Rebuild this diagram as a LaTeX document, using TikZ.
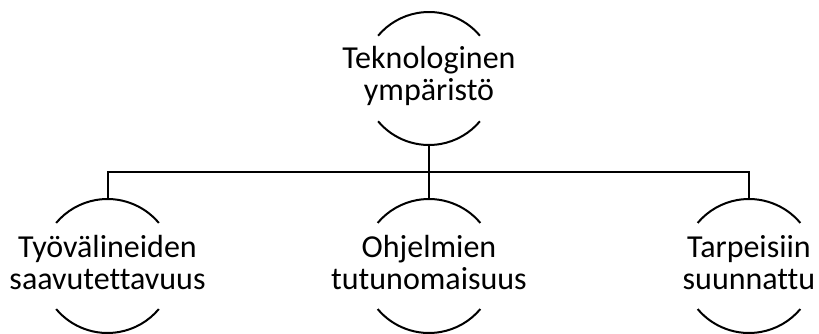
\documentclass[tikz,border=0pt]{standalone}
\usepackage{fontspec}
\setmainfont[Ligatures=NoCommon]{Carlito}
\begin{document}
\begin{tikzpicture}[x=1pt,y=1pt,
  ring/.style={circle,minimum size=#1,inner sep=0pt},
  lbl/.style={align=center,inner sep=0pt,yshift=3pt,font=\fontsize{32}{32}\selectfont},
  edge/.style={line width=2pt},
  arcs/.style={line width=2pt}]
\useasboundingbox (0,0) rectangle (819,333);
% circles (anchors for arcs and connectors)
\node[ring=133pt] (tc) at (429,254.5) {};
\node[ring=134pt] (ac) at (107.5,67) {};
\node[ring=134pt] (mc) at (429,67) {};
\node[ring=134pt] (rc) at (749,67) {};
% labels
\node[lbl] (t) at (tc.center) {Teknologinen\\ympäristö};
\node[lbl] (a) at (ac.center) {Työvälineiden\\saavutettavuus};
\node[lbl] (m) at (mc.center) {Ohjelmien\\tutunomaisuus};
\node[lbl] (r) at (rc.center) {Tarpeisiin\\suunnattu};
% arcs
\foreach \n/\r in {tc/66.5,ac/67,mc/67,rc/67}{
  \draw[arcs] ([shift={(40:\r)}]\n.center) arc[start angle=40,end angle=140,radius=\r];
  \draw[arcs] ([shift={(220:\r)}]\n.center) arc[start angle=220,end angle=320,radius=\r];
}
% connectors
\coordinate (bus) at (429,161);
\draw[edge] (tc.south) -- (bus);
\draw[edge] (ac.north) |- (bus) -| (rc.north);
\draw[edge] (mc.north) -- (bus);
\end{tikzpicture}
\end{document}
